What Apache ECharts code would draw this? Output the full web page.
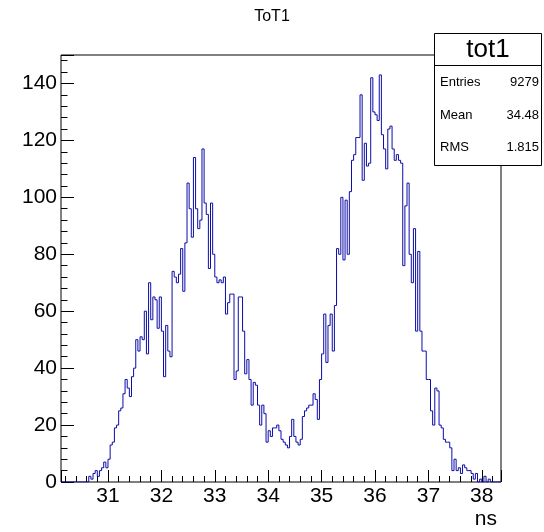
<!DOCTYPE html>
<html><head><meta charset="utf-8">
<script src="https://cdn.jsdelivr.net/npm/echarts@6/dist/echarts.min.js"></script>
<style>html,body{margin:0;padding:0;background:#fff}#c{width:544px;height:532px}</style>
</head><body><div id="c"></div>
<script>
// Histogram binning (ns)
const xMin = 30.12;
const xMax = 38.36;
const binWidth = 0.04;
// Bin contents (206 bins)
const counts = [
  0,0,0,0,0,0,0,0,0,0,0,0,0,
  2,1,3,4,2,4,5,7,5,8,
  13,14,19,20,25,26,31,36,33,30,
  37,40,50,46,51,50,60,45,70,57,
  65,64,54,65,53,37,55,46,44,74,
  72,70,73,82,67,84,105,96,86,114,
  96,89,92,117,98,94,75,98,80,72,
  70,71,70,72,59,63,66,66,36,39,
  65,65,53,38,43,36,27,35,34,27,
  20,27,24,14,18,16,19,19,20,18,
  15,14,13,12,16,22,16,14,13,15,
  23,25,26,27,27,31,29,22,36,45,
  59,42,55,59,46,62,82,80,100,78,
  99,80,102,113,115,121,121,136,106,119,
  111,112,142,130,129,127,143,122,117,110,
  124,125,117,113,115,113,112,76,97,105,
  80,70,89,53,81,53,46,46,36,36,
  25,20,33,32,20,19,15,14,14,12,
  4,8,4,5,3,6,5,4,4,3,
  1,3,0,1,0,2,0,1,
  0,0,0,0,0
];
const yMax = 150;
const yMajor = 20;
const yMinor = 4;
const xMajor = 1;
const xMinor = 0.2;
const titleText = 'ToT1';
const xTitle = 'ns';
const statsTitle = 'tot1';
const statsNames = ['Entries', 'Mean', 'RMS'];
const statsValues = ['9279', '34.48', '1.815'];

const FONT = 'Liberation Sans, Arial, Helvetica, sans-serif';

// Build step outline from bin edges
const pts = [];
for (let i = 0; i < counts.length; i++) {
  const lo = xMin + i * binWidth;
  const hi = xMin + (i + 1) * binWidth;
  pts.push([lo, counts[i]]);
  pts.push([hi, counts[i]]);
}

const isMult = (v, step) => Math.abs(v / step - Math.round(v / step)) < 1e-6;

const chart = echarts.init(document.getElementById('c'), null, {renderer: 'canvas'});

const statsRowsY = [82, 115, 147];
const graphics = [
  {type:'rect', z:100, shape:{x:434.5, y:33.5, width:107, height:132},
   style:{fill:'#fff', stroke:'#000', lineWidth:1}},
  {type:'line', z:101, shape:{x1:434.5, y1:65.5, x2:541.5, y2:65.5},
   style:{stroke:'#000', lineWidth:1}},
  {type:'text', z:102, x:488, y:50,
   style:{text:statsTitle, font:'26px ' + FONT, fill:'#000', textAlign:'center', textVerticalAlign:'middle'}},
  {type:'text', z:102, x:497, y:519,
   style:{text:xTitle, font:'21px ' + FONT, fill:'#000', textAlign:'right', textVerticalAlign:'middle'}}
];
statsNames.forEach((n, k) => {
  graphics.push({type:'text', z:102, x:440, y:statsRowsY[k],
    style:{text:n, font:'13px ' + FONT, fill:'#000', textAlign:'left', textVerticalAlign:'middle'}});
  graphics.push({type:'text', z:102, x:539, y:statsRowsY[k],
    style:{text:statsValues[k], font:'13px ' + FONT, fill:'#000', textAlign:'right', textVerticalAlign:'middle'}});
});

chart.setOption({
  animation: false,
  backgroundColor: '#fff',
  title: {text: titleText, left: 'center', top: 4,
    textStyle: {fontSize: 16, fontWeight: 'normal', color: '#000', fontFamily: FONT}},
  grid: {left: 61, right: 43, top: 55, bottom: 50, show: true,
    borderColor: '#000', borderWidth: 1, backgroundColor: 'transparent'},
  xAxis: [
    {type: 'value', min: xMin, max: xMax, minInterval: xMajor, maxInterval: xMajor,
     axisLine: {show: false}, splitLine: {show: false},
     axisTick: {show: true, inside: true, length: 12, lineStyle: {color: '#000', width: 1}},
     axisLabel: {show: true, color: '#000', fontSize: 21, fontFamily: FONT, margin: 4,
       formatter: v => isMult(v, xMajor) ? String(Math.round(v)) : ''}},
    {type: 'value', min: xMin, max: xMax, minInterval: xMinor, maxInterval: xMinor, position: 'bottom',
     axisLine: {show: false}, splitLine: {show: false},
     axisTick: {show: true, inside: true, length: 6, lineStyle: {color: '#000', width: 1}},
     axisLabel: {show: false}}
  ],
  yAxis: [
    {type: 'value', min: 0, max: yMax, interval: yMajor, position: 'left',
     axisLine: {show: false}, splitLine: {show: false},
     axisTick: {show: true, inside: true, length: 13, lineStyle: {color: '#000', width: 1}},
     axisLabel: {show: true, color: '#000', fontSize: 21, fontFamily: FONT, margin: 4,
       formatter: v => (isMult(v, yMajor) && v < yMax) ? String(Math.round(v)) : ''}},
    {type: 'value', min: 0, max: yMax, interval: yMinor, position: 'left',
     axisLine: {show: false}, splitLine: {show: false},
     axisTick: {show: true, inside: true, length: 6.5, lineStyle: {color: '#000', width: 1}},
     axisLabel: {show: false}}
  ],
  series: [{
    type: 'line', xAxisIndex: 0, yAxisIndex: 0, data: pts,
    symbol: 'none', showSymbol: false,
    lineStyle: {color: '#0c0ca8', width: 1}, z: 5, clip: true
  }],
  graphic: graphics
});
</script></body></html>
